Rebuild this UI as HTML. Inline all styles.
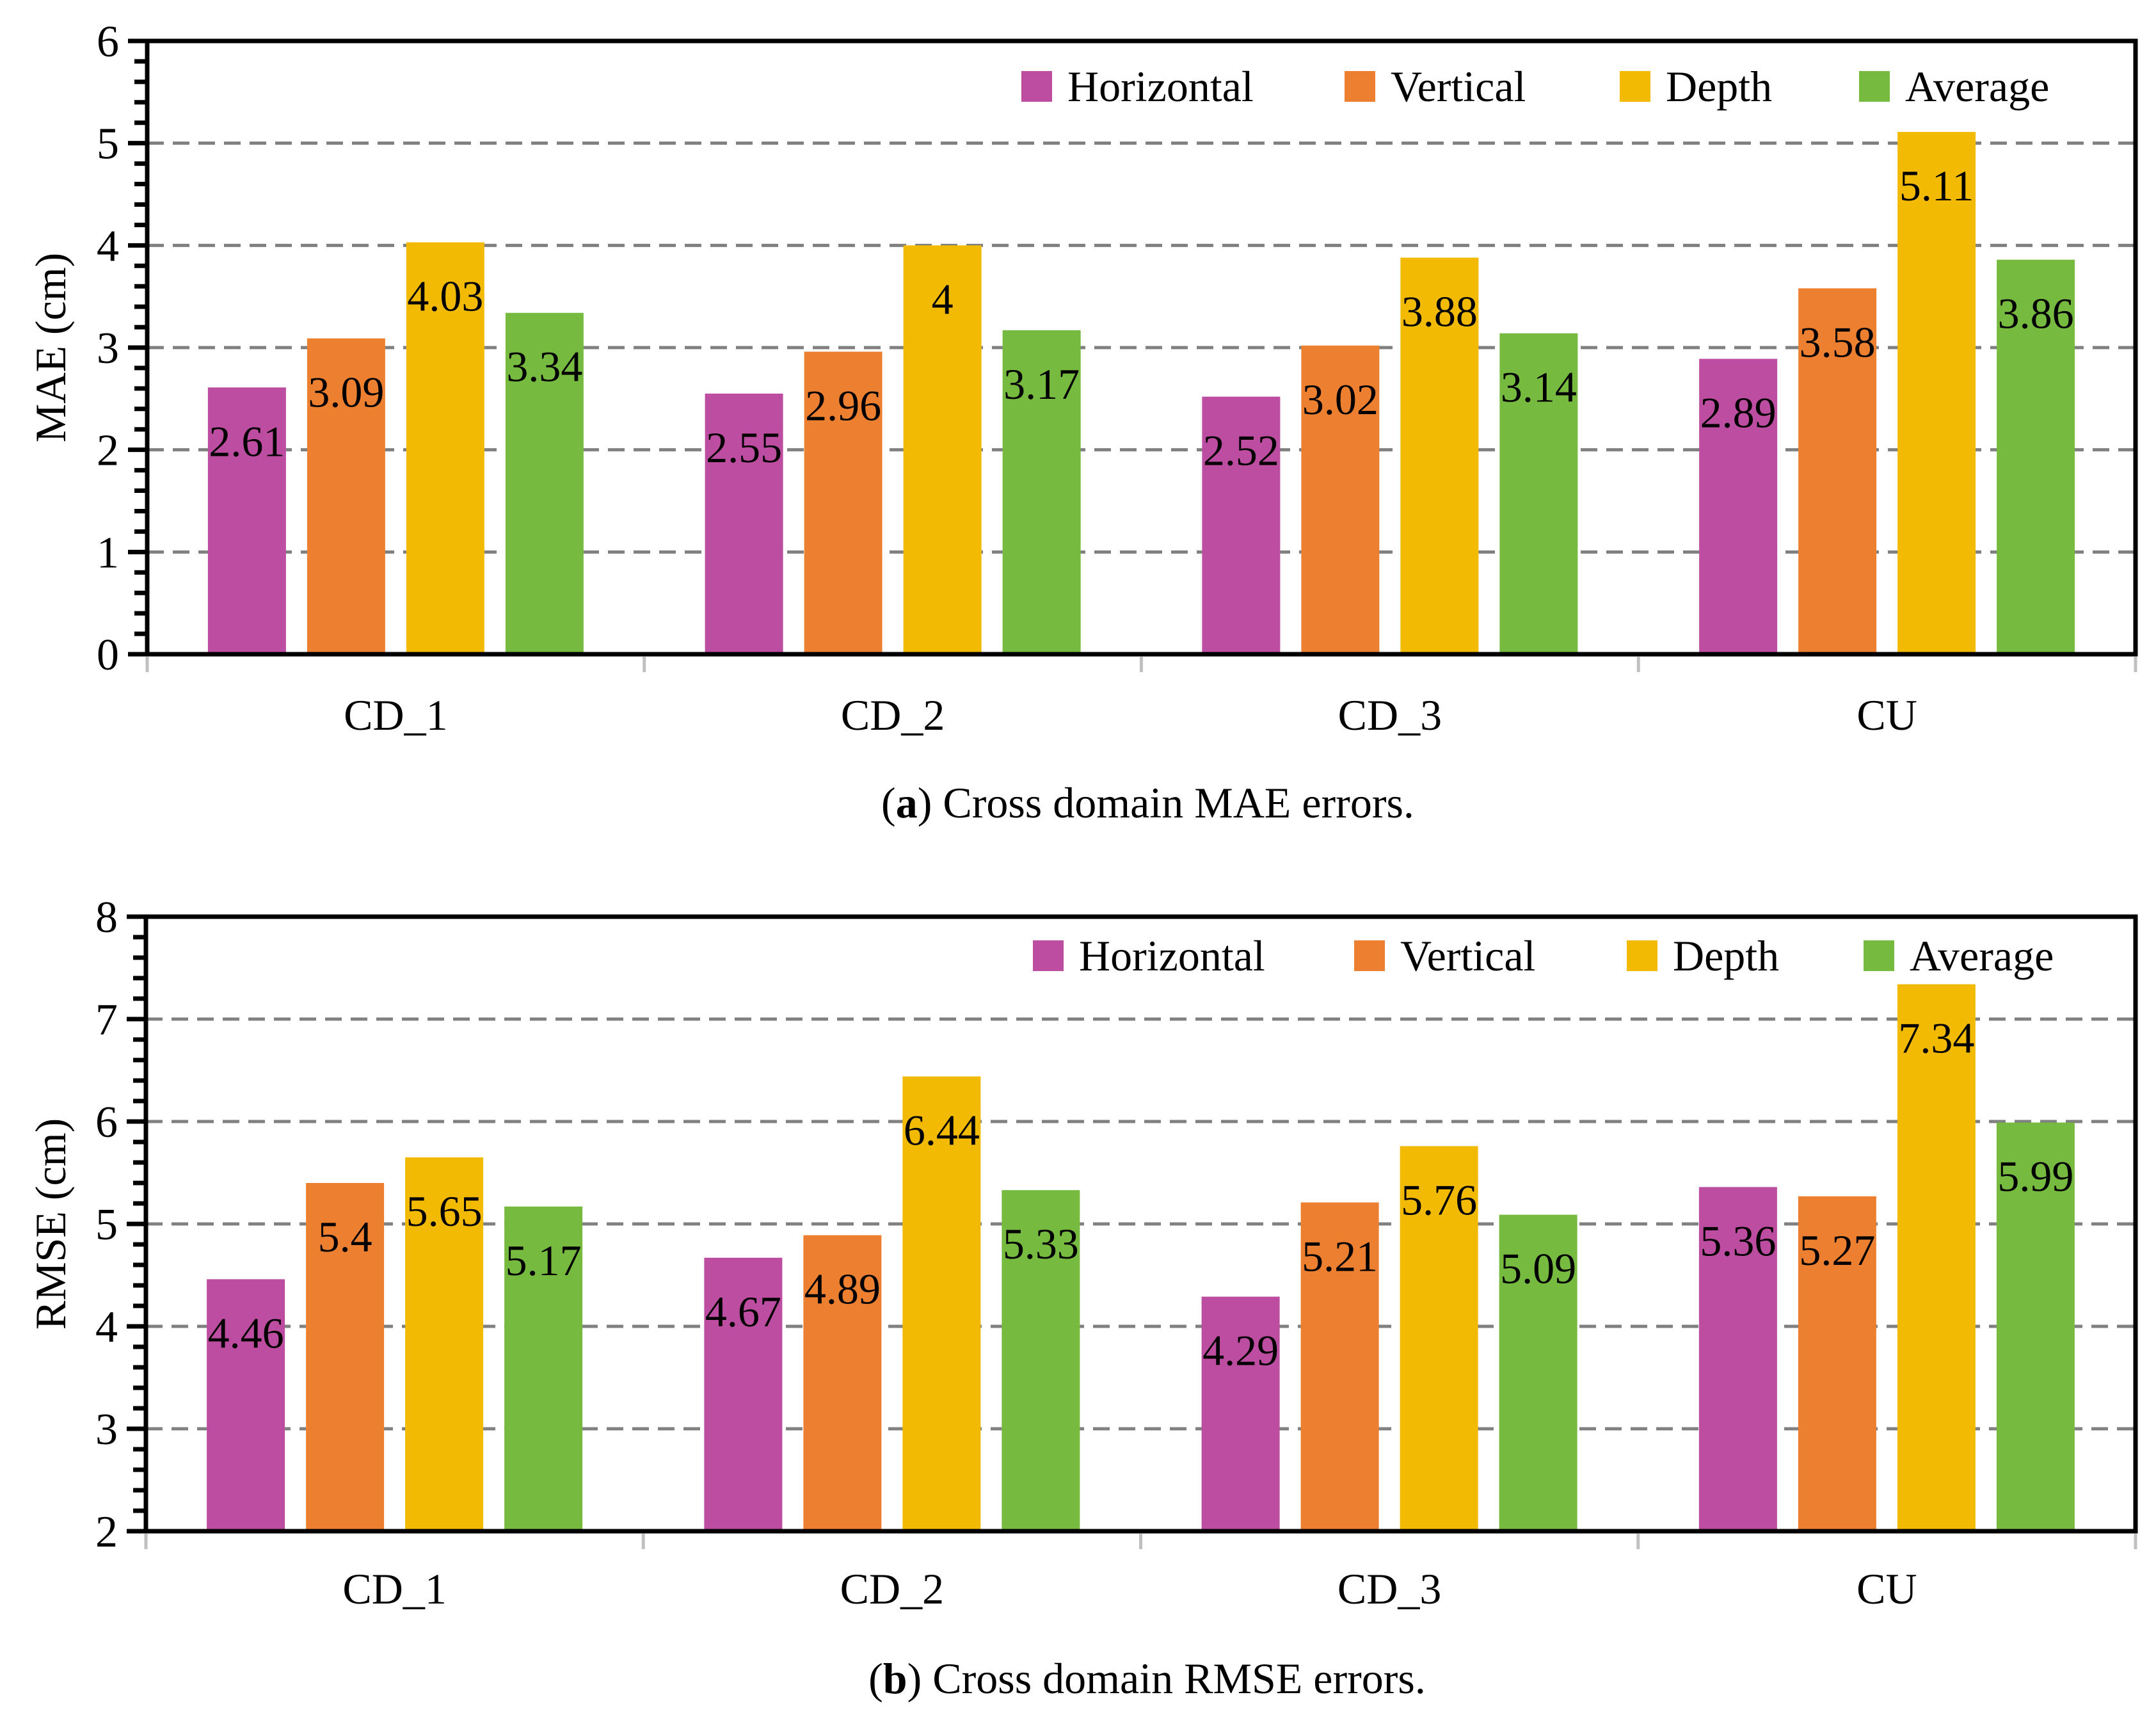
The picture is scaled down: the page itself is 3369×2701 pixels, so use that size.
<!DOCTYPE html>
<html><head><meta charset="utf-8">
<style>
html,body{margin:0;padding:0;background:#fff;}
svg{display:block;font-family:"Liberation Serif",serif;}
svg text{font-family:"Liberation Serif",serif;}
</style></head>
<body>
<svg id="fig" width="3369" height="2701" viewBox="0 0 3369 2701" xmlns="http://www.w3.org/2000/svg"></svg>
<script>
const categories = ["CD_1","CD_2","CD_3","CU"];
const seriesNames = ["Horizontal","Vertical","Depth","Average"];
const maeHorizontal = [2.61,2.55,2.52,2.89];
const maeVertical = [3.09,2.96,3.02,3.58];
const maeDepth = [4.03,4.00,3.88,5.11];
const maeAverage = [3.34,3.17,3.14,3.86];
const maeLabels = [["2.61","2.55","2.52","2.89"],["3.09","2.96","3.02","3.58"],["4.03","4","3.88","5.11"],["3.34","3.17","3.14","3.86"]];
const rmseHorizontal = [4.46,4.67,4.29,5.36];
const rmseVertical = [5.40,4.89,5.21,5.27];
const rmseDepth = [5.65,6.44,5.76,7.34];
const rmseAverage = [5.17,5.33,5.09,5.99];
const rmseLabels = [["4.46","4.67","4.29","5.36"],["5.4","4.89","5.21","5.27"],["5.65","6.44","5.76","7.34"],["5.17","5.33","5.09","5.99"]];
const maeTicks = [0,1,2,3,4,5,6];
const rmseTicks = [2,3,4,5,6,7,8];

const colors = ["#BD4DA1","#ED8030","#F2BA02","#76BB40"];
const FONT = '"Liberation Serif", serif';
const NS = "http://www.w3.org/2000/svg";
const svg = document.getElementById('fig');
function mk(tag, attrs, parent){
  const e = document.createElementNS(NS, tag);
  for (const k in attrs) e.setAttribute(k, attrs[k]);
  if (tag === 'text') e.setAttribute('font-family', FONT);
  (parent||svg).appendChild(e);
  return e;
}

function drawChart(cfg){
  const g = mk('g', {});
  
  
  const L = cfg.left, R = cfg.right, T = cfg.top, B = cfg.bottom;
  const ymin = cfg.ticks[0], ymax = cfg.ticks[cfg.ticks.length-1];
  const yS = v => B - (v - ymin) / (ymax - ymin) * (B - T);
  const cw = (R - L) / categories.length;
  const xC = i => L + cw * (i + 0.5);
  const barW = 122, step = 155;

  cfg.ticks.forEach(t => {
    if (t === ymin || t === ymax) return;
    const ln = mk('line', {x1:L, x2:R, y1:yS(t), y2:yS(t), stroke:'#808080', 'stroke-width':5, 'stroke-dasharray':'26 14'}, g);
    
    
  });

  cfg.series.forEach((vals, s) => {
    vals.forEach((v, i) => {
      const x = xC(i) + (s - 1.5) * step - barW / 2;
      const r = mk('rect', {x:x, y:yS(v), width:barW, height:B - yS(v), fill:colors[s]}, g);
      
      
      const t = mk('text', {x:x + barW/2, y:yS(v) + 84 + 23, 'font-size':68, 'text-anchor':'middle', fill:'#000'}, g);
      t.textContent = cfg.labels[s][i];
      
      
    });
  });

  const fr = mk('rect', {x:L, y:T, width:R-L, height:B-T, fill:'none', stroke:'#000', 'stroke-width':7}, g);
  
  

  for (let k = 0; k <= (ymax - ymin) * 5; k++) {
    const v = ymin + k / 5;
    const major = k % 5 === 0;
    const tk = mk('line', {x1: major ? L - 30 : L - 20, x2: L, y1: yS(v), y2: yS(v), stroke:'#000', 'stroke-width':7}, g);
    
    
  }
  cfg.ticks.forEach(t => {
    const tx = mk('text', {x:L - 44, y:yS(t) + 24, 'font-size':70, 'text-anchor':'end', fill:'#000'}, g);
    tx.textContent = String(t);
    
    
  });

  for (let i = 0; i <= categories.length; i++) {
    const x = L + cw * i;
    const tk = mk('line', {x1:x, x2:x, y1:B + 4, y2:B + 28, stroke:'#c0c0c0', 'stroke-width':5}, g);
    
    
  }
  categories.forEach((c, i) => {
    const tx = mk('text', {x:xC(i), y:cfg.catY + 23, 'font-size':68, 'text-anchor':'middle', fill:'#000'}, g);
    tx.textContent = c;
    
    
  });

  const yt = mk('text', {x:0, y:0, 'font-size':68, 'text-anchor':'middle', fill:'#000', transform:'translate(' + (80 + 22) + ',' + ((T + B) / 2) + ') rotate(-90)'}, g);
  yt.textContent = cfg.yTitle;
  
  

  cfg.legendX.forEach((lx, s) => {
    const lg = mk('g', {}, g);
    
    
    const sw = mk('rect', {x:lx, y:cfg.legendY - 24, width:48, height:48, fill:colors[s]}, lg);
    
    
    const lt = mk('text', {x:lx + 72, y:cfg.legendY + 23, 'font-size':68, fill:'#000'}, lg);
    lt.textContent = seriesNames[s];
    
    
  });

  const cap = mk('text', {x:(L + R) / 2 + 10, y:cfg.capY + 23, 'font-size':68, 'text-anchor':'middle', fill:'#000'}, g);
  const b1 = mk('tspan', {}, cap); b1.textContent = '(';
  const b2 = mk('tspan', {'font-weight':'bold'}, cap); b2.textContent = cfg.capLetter;
  const b3 = mk('tspan', {}, cap); b3.textContent = ') ' + cfg.capText;
  
  
}

drawChart({
  id:'mae', left:230, right:3337, top:64, bottom:1022, ticks:maeTicks,
  series:[maeHorizontal, maeVertical, maeDepth, maeAverage], labels:maeLabels,
  yTitle:'MAE (cm)', catY:1117, capY:1254, capLetter:'a', capText:'Cross domain MAE errors.',
  legendX:[1596, 2101, 2531, 2905], legendY:135
});
drawChart({
  id:'rmse', left:228, right:3337, top:1432, bottom:2392, ticks:rmseTicks,
  series:[rmseHorizontal, rmseVertical, rmseDepth, rmseAverage], labels:rmseLabels,
  yTitle:'RMSE (cm)', catY:2482, capY:2622, capLetter:'b', capText:'Cross domain RMSE errors.',
  legendX:[1614, 2116, 2542, 2912], legendY:1493
});
</script>
</body></html>
